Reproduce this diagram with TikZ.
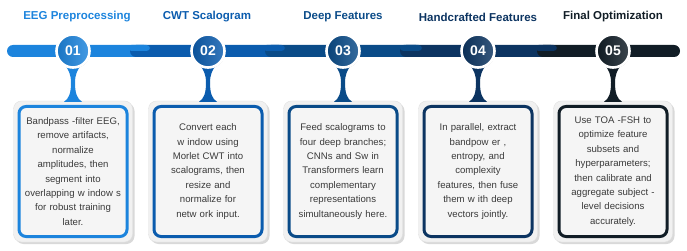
\documentclass[tikz,border=0pt]{standalone}
\usepackage{fontspec}
\setmainfont{Liberation Sans}
\usetikzlibrary{positioning,calc,fit,backgrounds,shadows}
\definecolor{stA}{HTML}{1C84DD}
\definecolor{stB}{HTML}{0B5CAE}
\definecolor{stC}{HTML}{0A4B88}
\definecolor{stD}{HTML}{0C3461}
\definecolor{stE}{HTML}{111D26}
\definecolor{bodytxt}{HTML}{3A3A3A}
\definecolor{cardbg}{HTML}{F1F1F1}
\tikzset{
  stagetitle/.style={font=\fontsize{11.5}{13}\selectfont\bfseries, anchor=center},
  badge/.style={circle, draw=white, line width=2.6pt, minimum size=33pt, inner sep=0pt,
                left color=#1!88!black, right color=#1!82!white, text=white,
                font=\fontsize{14}{16}\selectfont\bfseries,
                drop shadow={shadow xshift=0.6pt, shadow yshift=-1pt, opacity=.35, fill=black!60}},
  card/.style={draw=#1, line width=3pt, rounded corners=7pt, fill=black!4,
               text width=98pt, inner sep=5pt, minimum height=130pt, align=center,
               text=bodytxt, font=\fontsize{9.6}{14.4}\selectfont},
  cardframe/.style={draw=black!12, fill=cardbg, rounded corners=8pt, inner sep=4pt,
                    drop shadow={shadow xshift=2pt, shadow yshift=-2pt, opacity=.3}}}

\begin{document}
\begin{tikzpicture}[x=1pt, y=-1pt]
  \useasboundingbox (0,0) rectangle (687,251);
  % cards
  \node[card=stA] (b1) at (73,171.5)
    {Bandpass -filter EEG,\\ remove artifacts,\\ normalize\\ amplitudes, then\\
     segment into\\ overlapping w indow s\\ for robust training\\ later.};
  \node[card=stB, right=24pt of b1] (b2)
    {Convert each\\ w indow using\\ Morlet CWT into\\ scalograms, then\\
     resize and\\ normalize for\\ netw ork input.};
  \node[card=stC, right=24pt of b2] (b3)
    {Feed scalograms to\\ four deep branches;\\ CNNs and Sw in\\ Transformers learn\\
     complementary\\ representations\\ simultaneously here.};
  \node[card=stD, right=24pt of b3] (b4)
    {In parallel, extract\\ bandpow er ,\\ entropy, and\\ complexity\\
     features, then fuse\\ them w ith deep\\ vectors jointly.};
  \node[card=stE, right=24pt of b4] (b5)
    {Use TOA -FSH to\\ optimize feature\\ subsets and\\ hyperparameters;\\
     then calibrate and\\ aggregate subject -\\ level decisions\\ accurately.};
  \begin{scope}[on background layer]
    \foreach \i in {1,...,5}
      \node[cardframe, fit=(b\i)] (f\i) {};
  \end{scope}
  % timeline bar
  \foreach \s/\e/\col in {7/150/stA, 130/285/stB, 265/422/stC, 400/557/stD, 537/680/stE}
    \fill[\col, rounded corners=6pt] (\s,45) rectangle (\e,57);
  \foreach \e/\col in {150/stA, 285/stB, 422/stC, 557/stD}
    \fill[\col, rounded corners=3.5pt] (\e-22,45) rectangle (\e,51);
  % badges, titles and stems
  \foreach \i/\col/\num/\ttl/\dx in {1/stA/01/EEG Preprocessing/4, 2/stB/02/CWT Scalogram/-1,
      3/stC/03/Deep Features/0, 4/stD/04/Handcrafted Features/0, 5/stE/05/Final Optimization/0}{
    \node[badge=\col] (n\i) at (b\i.north |- 0,51) {\num};
    \node[stagetitle, text=\col] (t\i) at ($(n\i)+(\dx,-34)$) {\ttl};
    \begin{scope}[on background layer]
      \coordinate (s\i) at (n\i.south);
      \coordinate (e\i) at (f\i.north);
      \fill[\col] ($(s\i)+(-8,-4)$) .. controls ($(s\i)+(-4,2)$) and ($(s\i)+(-2,6)$) .. ($(s\i)+(-2,14)$)
        .. controls ($(e\i)+(-2,-8)$) and ($(e\i)+(-4,-2)$) .. ($(e\i)+(-9,1)$)
        -- ($(e\i)+(9,1)$)
        .. controls ($(e\i)+(4,-2)$) and ($(e\i)+(2,-8)$) .. ($(s\i)+(2,14)$)
        .. controls ($(s\i)+(2,6)$) and ($(s\i)+(4,2)$) .. ($(s\i)+(8,-4)$) -- cycle;
    \end{scope}
  }
\end{tikzpicture}
\end{document}
